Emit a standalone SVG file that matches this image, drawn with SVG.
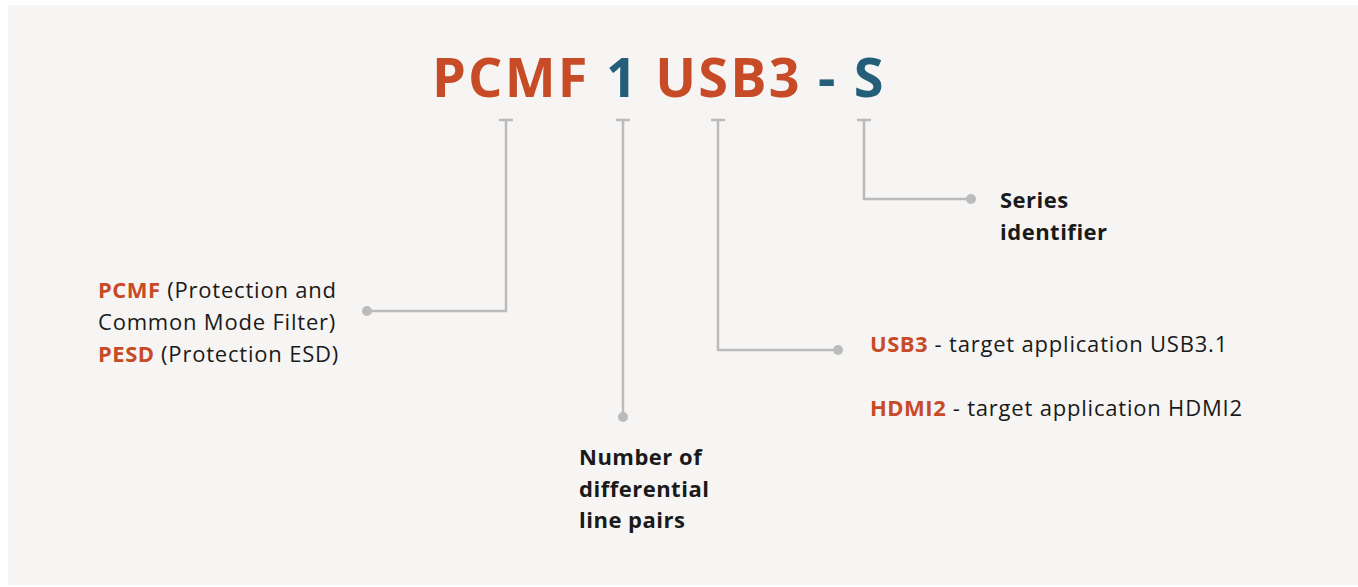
<svg xmlns="http://www.w3.org/2000/svg" width="1358" height="587" viewBox="0 0 1358 587">
<style>
.t{font-family:"Open Sans","Noto Sans",sans-serif;font-size:22px;fill:#1a1a1a;letter-spacing:0.8px}
.b{font-weight:bold;letter-spacing:0.5px}
.o{fill:#C84B27}
.k{fill:#245E78}
.ln{fill:none;stroke:#BBBBBB;stroke-width:2.5}
.dot{fill:#BBBBBB}
.title{font-family:"Open Sans","Noto Sans",sans-serif;font-size:54px;font-weight:bold;letter-spacing:2.2px}
</style>
<rect x="0" y="0" width="1358" height="587" fill="#ffffff"/>
<rect x="8" y="5" width="1350" height="580" fill="#F6F5F3"/>
<g id="title"><text class="title" x="432" y="97"><tspan class="o">PCMF</tspan> <tspan class="k">1</tspan> <tspan class="o">USB3</tspan> <tspan class="k">-</tspan> <tspan class="k">S</tspan></text></g>
<g id="connectors">
<path class="ln" d="M499 120H513M506 120V311H367"/><circle class="dot" cx="367" cy="311" r="5"/>
<path class="ln" d="M616 120H630M623 120V417"/><circle class="dot" cx="623" cy="417" r="5"/>
<path class="ln" d="M711 120H725M718 120V350H838"/><circle class="dot" cx="838" cy="350" r="5"/>
<path class="ln" d="M857 120H871M864 120V199H971"/><circle class="dot" cx="971" cy="199" r="5"/>
</g>
<g id="prefix"><text class="t" x="98" y="298"><tspan class="b o">PCMF</tspan> (Protection and</text>
<text class="t" x="98" y="330">Common Mode Filter)</text>
<text class="t" x="98" y="362"><tspan class="b o">PESD</tspan> (Protection ESD)</text></g>
<g id="series"><text class="t b" x="1000" y="208">Series</text><text class="t b" x="1000" y="240">identifier</text></g>
<g id="app"><text class="t" x="870" y="352"><tspan class="b o">USB3</tspan> - target application USB3.1</text>
<text class="t" x="870" y="416"><tspan class="b o">HDMI2</tspan> - target application HDMI2</text></g>
<g id="pairs"><text class="t b" x="579" y="465">Number of</text><text class="t b" x="579" y="497">differential</text><text class="t b" x="579" y="528">line pairs</text></g>
</svg>
